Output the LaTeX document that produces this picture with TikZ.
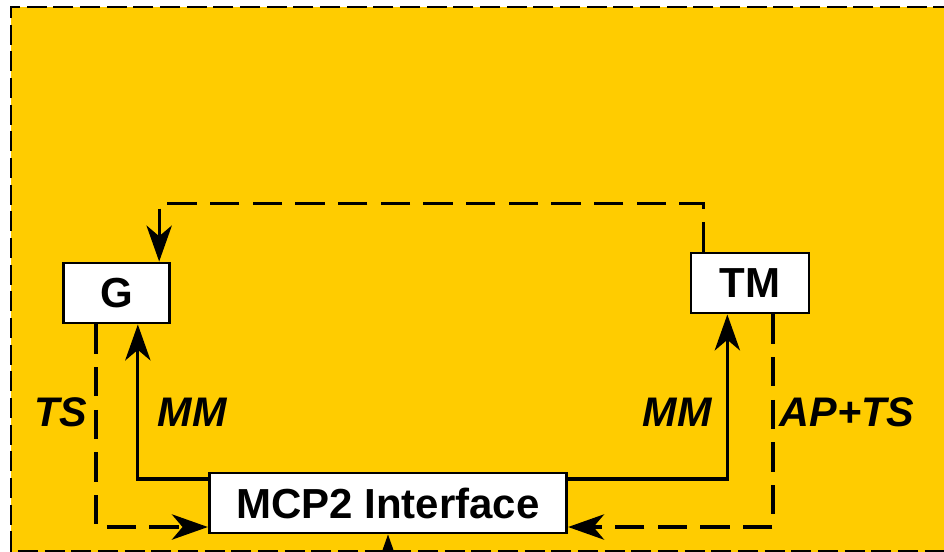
\documentclass[tikz,border=0pt]{standalone}
\usepackage{fontspec}
\setmainfont{Liberation Sans}
\usetikzlibrary{arrows.meta}
\definecolor{panel}{HTML}{FFCC00}
\tikzset{
    block/.style={draw, fill=white, line width=2.2pt, minimum height=45pt, inner sep=0pt,
        font=\fontsize{31.5}{36}\selectfont\bfseries},
    sigline/.style={line width=2.4pt},
    dashline/.style={line width=2.4pt, dash pattern=on 22pt off 10pt},
    framedash/.style={line width=2.2pt, dash pattern=on 15pt off 5pt},
    siglabel/.style={font=\fontsize{31}{36}\selectfont\bfseries\itshape},
    >={Stealth[length=27pt, width=19pt, inset=8pt]}
}
\begin{document}
\begin{tikzpicture}[x=0.75pt, y=-0.75pt]
    \clip (0,0) rectangle (944,551);
    % Panel
    \fill [panel] (11,7) rectangle (980,600);
    \draw [framedash] (980,7) -- (11,7) -- (11,551) -- (980,551);

    % Blocks
    \node [block, minimum width=80pt] (g) at (116.5,293) {G};
    \node [block, minimum width=88.5pt] (tm) at (750,283) {TM};
    \node [block, minimum width=268pt] (mcp) at (388,503) {MCP2 Interface};

    % Feedback TM -> G
    \draw [dashline, ->] ([xshift=-35pt]tm.north) -- ++(0,-48) -| ([xshift=32pt]g.north);

    % MM paths
    \draw [sigline, ->] ([yshift=18pt]mcp.west) -| ([xshift=16pt]g.south);
    \draw [sigline, ->] ([yshift=18pt]mcp.east) -| ([xshift=-17pt]tm.south);

    % TS paths
    \draw [dashline, ->] ([xshift=-15.4pt]g.south) |- ([yshift=-18pt]mcp.west);
    \draw [dashline, ->] ([xshift=17.3pt]tm.south) |- ([yshift=-18pt]mcp.east);

    % Input from below
    \coordinate (ext) at (388,620);
    \draw [sigline, ->] (ext) -- (mcp.south);

    % Labels
    \node [siglabel] (ts) at (61,412) {TS};
    \node [siglabel] (mmg) at (192,412) {MM};
    \node [siglabel] (mmtm) at (677,412) {MM};
    \node [siglabel] (apts) at (847,412) {AP+TS};
\end{tikzpicture}
\end{document}
